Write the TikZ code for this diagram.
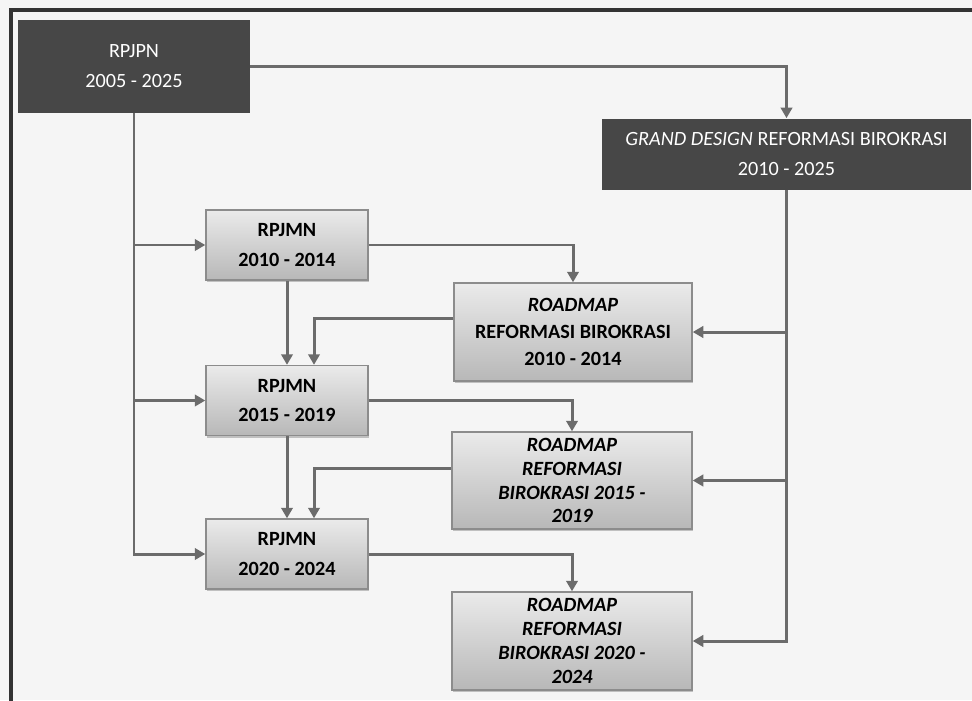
\documentclass[tikz,border=0pt]{standalone}
\usepackage{fontspec}
\setmainfont{Carlito}
\usetikzlibrary{arrows.meta,shadows}

\begin{document}
\begin{tikzpicture}[
  dark/.style={rectangle, fill=black!72, text=white, align=center,
               font=\fontsize{11.5}{17}\selectfont, inner sep=2pt},
  plan/.style={rectangle, draw=black!45, line width=0.8pt, top color=black!8,
               bottom color=black!28, align=center, inner sep=2pt,
               drop shadow={opacity=0.45, shadow xshift=0.6pt, shadow yshift=-1.2pt},
               font=\bfseries\fontsize{11.5}{17}\selectfont},
  conn/.style={draw=black!58, line width=1.7pt,
               -{Triangle[length=6pt,width=6.5pt]}}
]
  \useasboundingbox[fill=black!4] (0,0) rectangle (19.44,-14);
  \draw[line width=2.3pt, draw=black!80] (0.22,-14.5) |- (19.9,-0.2);

  \node[dark, minimum width=4.64cm, minimum height=1.86cm] (rpjpn) at (2.68,-1.33)
    {RPJPN\\2005 - 2025};
  \node[dark, minimum width=7.38cm, minimum height=1.42cm] (gd) at (15.73,-3.08)
    {\textit{GRAND DESIGN} REFORMASI BIROKRASI\\2010 - 2025};

  \node[plan, minimum width=3.24cm, minimum height=1.4cm] (m1) at (5.74,-4.9)
    {RPJMN\\2010 - 2014};
  \node[plan, minimum width=3.24cm, minimum height=1.4cm] (m2) at (5.74,-8.01)
    {RPJMN\\2015 - 2019};
  \node[plan, minimum width=3.24cm, minimum height=1.4cm] (m3) at (5.74,-11.08)
    {RPJMN\\2020 - 2024};

  \node[plan, minimum width=4.76cm, minimum height=1.96cm,
        font=\bfseries\fontsize{11.5}{15.5}\selectfont] (r1) at (11.46,-6.64)
    {\textit{ROADMAP}\\REFORMASI BIROKRASI\\2010 - 2014};
  \node[plan, minimum width=4.8cm, minimum height=1.94cm,
        font=\bfseries\itshape\fontsize{11.5}{13.6}\selectfont] (r2) at (11.44,-9.61)
    {ROADMAP\\REFORMASI\\BIROKRASI 2015 -\\2019};
  \node[plan, minimum width=4.8cm, minimum height=1.96cm,
        font=\bfseries\itshape\fontsize{11.5}{13.6}\selectfont] (r3) at (11.44,-12.82)
    {ROADMAP\\REFORMASI\\BIROKRASI 2020 -\\2024};

  \draw[conn] (rpjpn.east) -| (gd.north);
  \draw[conn] (rpjpn.south) |- (m1.west);
  \draw[conn] (rpjpn.south) |- (m2.west);
  \draw[conn] (rpjpn.south) |- (m3.west);

  \draw[conn] (gd.south) |- (r1.east);
  \draw[conn] (gd.south) |- (r2.east);
  \draw[conn] (gd.south) |- (r3.east);

  \draw[conn] (m1.east) -| (r1.north);
  \draw[conn] (m2.east) -| (r2.north);
  \draw[conn] (m3.east) -| (r3.north);

  \draw[conn] (m1.south) -- (m2.north);
  \draw[conn] (m2.south) -- (m3.north);
  \draw[conn] ([yshift=0.28cm]r1.west) -| ([xshift=0.54cm]m2.north);
  \draw[conn] ([yshift=0.25cm]r2.west) -| ([xshift=0.54cm]m3.north);
\end{tikzpicture}
\end{document}
